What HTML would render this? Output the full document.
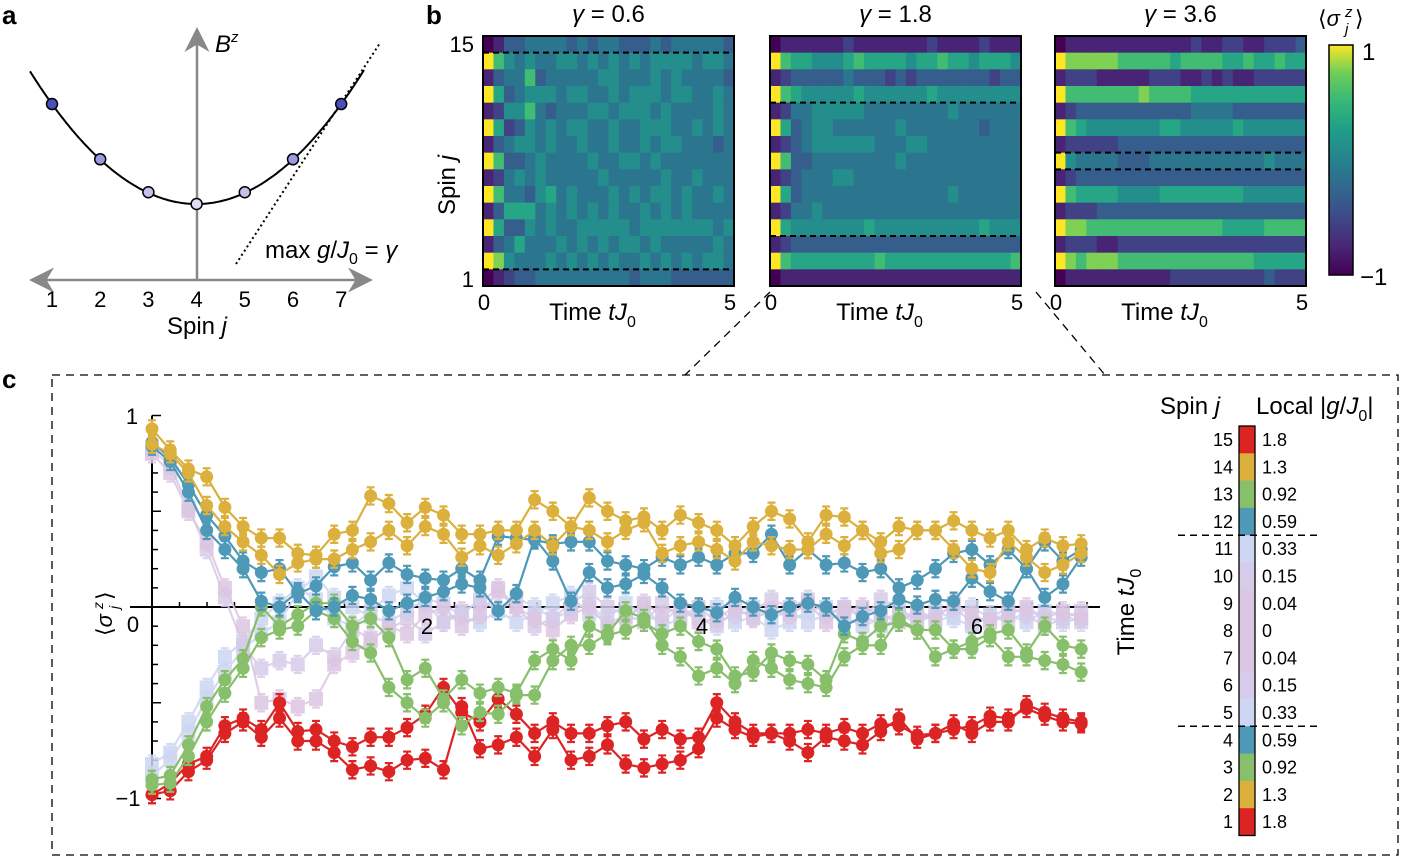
<!DOCTYPE html>
<html><head><meta charset="utf-8">
<style>
html,body{margin:0;padding:0;background:#fff;}
svg{display:block;font-family:"Liberation Sans",sans-serif;}
</style></head>
<body>
<svg id="fig" width="1408" height="857" viewBox="0 0 1408 857" xmlns="http://www.w3.org/2000/svg">
<defs>
<linearGradient id="vir" x1="0" y1="1" x2="0" y2="0">
<stop offset="0" stop-color="#440154"/><stop offset="0.13" stop-color="#482878"/><stop offset="0.25" stop-color="#3e4989"/><stop offset="0.38" stop-color="#31688e"/><stop offset="0.5" stop-color="#26828e"/><stop offset="0.63" stop-color="#1f9e89"/><stop offset="0.75" stop-color="#35b779"/><stop offset="0.88" stop-color="#6ece58"/><stop offset="1" stop-color="#fde725"/>
</linearGradient>
<marker id="arr" markerWidth="10" markerHeight="10" refX="8" refY="5" orient="auto"><path d="M0,0 L10,5 L0,10 L3,5 Z" fill="#888"/></marker>
</defs>

<text x="2" y="24" font-size="26" font-weight="bold">a</text>
<text x="426" y="24" font-size="26" font-weight="bold">b</text>
<text x="2" y="388" font-size="26" font-weight="bold">c</text>

<g>
<line x1="197" y1="280" x2="197" y2="32" stroke="#888" stroke-width="2.5" marker-end="url(#arr)"/>
<line x1="197" y1="280" x2="34" y2="280" stroke="#888" stroke-width="2.5" marker-end="url(#arr)"/>
<line x1="197" y1="280" x2="368" y2="280" stroke="#888" stroke-width="2.5" marker-end="url(#arr)"/>
<path id="parab" d="" fill="none" stroke="#000" stroke-width="2"/>
<line x1="236" y1="264" x2="380" y2="43" stroke="#000" stroke-width="2" stroke-dasharray="2,3"/>
<g id="apoints"></g>
<text x="215" y="52" font-size="24" font-style="italic">B<tspan font-size="15" dy="-10">z</tspan></text>
<text x="265" y="258" font-size="24">max <tspan font-style="italic">g</tspan>/<tspan font-style="italic">J</tspan><tspan font-size="16" dy="6">0</tspan><tspan dy="-6"> = </tspan><tspan font-style="italic">γ</tspan></text>
<text x="197" y="334" font-size="24" text-anchor="middle">Spin <tspan font-style="italic">j</tspan></text>
</g>

<g id="panelb"></g>
<text x="430" y="160" font-size="24" text-anchor="middle" transform="rotate(-90 455 160)">Spin <tspan font-style="italic">j</tspan></text>
<text x="474" y="52" font-size="22" text-anchor="end">15</text>
<text x="474" y="287" font-size="22" text-anchor="end">1</text>
<rect x="1329" y="45" width="24" height="230" fill="url(#vir)" stroke="#000" stroke-width="1.5"/>
<text x="1362" y="60" font-size="24">1</text>
<text x="1360" y="285" font-size="24">−1</text>
<g>
<text x="1318" y="26" font-size="22">⟨<tspan font-style="italic">σ</tspan></text>
<text x="1345" y="17" font-size="15" font-style="italic">z</text>
<text x="1345" y="34" font-size="15" font-style="italic">j</text>
<text x="1355" y="26" font-size="22">⟩</text>
</g>

<line x1="770" y1="292" x2="685" y2="375" stroke="#000" stroke-width="1.3" stroke-dasharray="8,6"/>
<line x1="1036" y1="292" x2="1105" y2="375" stroke="#000" stroke-width="1.3" stroke-dasharray="8,6"/>
<rect x="52" y="375" width="1346" height="480" fill="none" stroke="#000" stroke-width="1.3" stroke-dasharray="8,6"/>

<g id="panelc"></g>
<g transform="translate(112,612) rotate(-90)">
<text x="-24" y="0" font-size="22">⟨<tspan font-style="italic">σ</tspan></text>
<text x="3" y="-9" font-size="14" font-style="italic">z</text>
<text x="3" y="7" font-size="14" font-style="italic">j</text>
<text x="12" y="0" font-size="22">⟩</text>
</g>
<g id="legend"></g>
</svg>

<script>
const aSpins=[1,2,3,4,5,6,7];
const aField=[1.0,0.53,0.25,0.15,0.25,0.53,1.0];
const aColors=['#4b4fbd','#9a9ae0','#c2c2ee','#dedef6','#c2c2ee','#9a9ae0','#4b4fbd'];

const gammas=['0.6','1.8','3.6'];
const heat1=[
"013344443434433343444443","975454455454545455554554","134473444445544454544443",
"963455545544545554554454","125574344455455545444454","962354545544544555445454",
"134554544544544545544434","973345444454455454444444","124545444445444445445444",
"974435645444545455454454","136664545454544545454444","963354544555554555555545",
"134644454545455454444454","985444545454544545454554","012334444444443444333333"];
const heat2=[
"011111121111111211112111","976655567666656676656665","123333343332323333333233",
"976555556555555655555555","124455555444444445444444","963455444444544444443444",
"123455555544455444444444","973344444444544444444444","123444554444444444444444",
"963444444444444445444444","124454444444444444444444","965555555655555555556555",
"123333333333333333333333","976666666676666666666667","011111111111111111111111"];
const heat3=[
"011111111111121122112223","988888777776777766766766","122211111222112121122222",
"977777778777766666666666","123333333333344443333333","976555555566555556555555",
"122222333333333333333333","954444333444444444445444","123333333333333333333333",
"976666555566666666555555","122233333333333333333333","988777777777777766667777",
"122211222222222222222222","987888777777777777766666","011111111112222222223222"];
const dashRows1=[14.5,1.5], dashRows2=[11.5,3.5], dashRows3=[8.5,7.5];

const dt=0.1325;
const yellowA=[0.93,0.82,0.72,0.68,0.52,0.42,0.36,0.36,0.28,0.27,0.38,0.40,0.58,0.54,0.44,0.52,0.48,0.38,0.38,0.40,0.40,0.56,0.50,0.42,0.57,0.50,0.45,0.47,0.40,0.48,0.44,0.40,0.32,0.42,0.50,0.46,0.34,0.48,0.47,0.40,0.34,0.42,0.40,0.40,0.45,0.40,0.36,0.40,0.30,0.36,0.32,0.33];
const yellowB=[0.85,0.80,0.70,0.53,0.42,0.34,0.27,0.17,0.23,0.25,0.25,0.30,0.34,0.40,0.32,0.42,0.38,0.26,0.32,0.27,0.33,0.40,0.32,0.42,0.40,0.34,0.40,0.44,0.28,0.32,0.34,0.30,0.24,0.34,0.32,0.30,0.30,0.38,0.32,0.40,0.28,0.30,0.40,0.40,0.30,0.20,0.18,0.34,0.26,0.18,0.22,0.28];
const blueA=[0.86,0.78,0.64,0.48,0.37,0.24,0.18,0.20,0.07,0.11,0.21,0.23,0.14,0.23,0.17,0.15,0.14,0.20,0.14,0.37,0.36,0.35,0.33,0.34,0.34,0.24,0.22,0.20,0.26,0.22,0.26,0.22,0.28,0.28,0.38,0.22,0.30,0.22,0.23,0.18,0.20,0.10,0.14,0.20,0.28,0.30,0.22,0.30,0.20,0.34,0.24,0.30];
const blueB=[0.84,0.76,0.60,0.40,0.30,0.20,0.03,0.00,0.08,-0.02,0.00,0.06,0.04,-0.02,0.02,0.05,0.08,0.12,0.10,-0.02,0.07,0.36,0.24,0.03,0.18,0.10,0.12,0.17,0.10,0.02,0.00,-0.03,0.05,0.00,-0.04,0.00,0.02,0.00,-0.10,-0.05,-0.02,0.04,0.01,0.04,0.03,0.15,0.08,0.03,0.20,0.05,0.12,0.26];
const greenA=[-0.90,-0.88,-0.72,-0.52,-0.38,-0.27,0.00,-0.10,-0.04,0.02,0.02,-0.10,-0.06,-0.16,-0.38,-0.32,-0.48,-0.38,-0.45,-0.42,-0.45,-0.28,-0.22,-0.28,-0.10,-0.15,-0.12,-0.08,-0.14,-0.10,-0.18,-0.22,-0.36,-0.34,-0.24,-0.28,-0.30,-0.38,-0.14,-0.18,-0.10,-0.08,-0.12,-0.12,-0.22,-0.18,-0.14,-0.12,-0.24,-0.10,-0.20,-0.22];
const greenB=[-0.93,-0.92,-0.78,-0.60,-0.45,-0.32,-0.16,-0.12,-0.10,-0.02,-0.06,-0.18,-0.24,-0.42,-0.50,-0.58,-0.50,-0.62,-0.55,-0.56,-0.46,-0.46,-0.28,-0.20,-0.20,-0.14,-0.02,-0.06,-0.20,-0.26,-0.36,-0.32,-0.40,-0.28,-0.32,-0.38,-0.40,-0.42,-0.26,-0.20,-0.20,-0.06,-0.12,-0.26,-0.22,-0.22,-0.16,-0.26,-0.26,-0.28,-0.30,-0.34];
const redA=[-0.98,-0.92,-0.82,-0.78,-0.62,-0.58,-0.64,-0.50,-0.65,-0.64,-0.70,-0.73,-0.68,-0.68,-0.63,-0.56,-0.42,-0.55,-0.60,-0.48,-0.56,-0.66,-0.60,-0.66,-0.66,-0.62,-0.60,-0.69,-0.64,-0.69,-0.68,-0.50,-0.60,-0.66,-0.66,-0.66,-0.64,-0.66,-0.63,-0.66,-0.61,-0.62,-0.67,-0.66,-0.61,-0.66,-0.60,-0.60,-0.51,-0.55,-0.58,-0.60];
const redB=[-0.98,-0.96,-0.86,-0.80,-0.66,-0.60,-0.68,-0.58,-0.70,-0.70,-0.76,-0.85,-0.83,-0.86,-0.80,-0.79,-0.85,-0.52,-0.74,-0.72,-0.68,-0.78,-0.64,-0.80,-0.78,-0.72,-0.82,-0.84,-0.82,-0.80,-0.74,-0.58,-0.64,-0.68,-0.66,-0.70,-0.76,-0.68,-0.70,-0.72,-0.65,-0.58,-0.69,-0.66,-0.64,-0.62,-0.57,-0.58,-0.53,-0.57,-0.60,-0.61];
const faintA=[-0.88,-0.80,-0.66,-0.48,-0.34,-0.22,-0.14,-0.08,0.08,0.16,0.05,0.00,-0.05,-0.08,-0.02,0.04,0.02,-0.05,-0.08,-0.02,0.05,0.00,-0.06,-0.02,0.02,-0.08,-0.05,0.00,-0.10,-0.06,-0.02,0.00,-0.08,-0.05,-0.12,-0.08,-0.02,0.00,-0.05,-0.10,-0.06,-0.04,-0.08,-0.02,-0.06,-0.10,-0.04,-0.08,-0.02,-0.05,-0.08,-0.06];
const faintB=[-0.82,-0.76,-0.60,-0.42,-0.26,-0.18,-0.06,0.02,0.10,0.04,-0.06,-0.10,-0.02,0.06,0.10,0.02,-0.08,-0.04,0.04,-0.02,-0.08,-0.04,0.02,0.06,-0.04,-0.06,0.02,-0.04,-0.08,0.00,-0.06,-0.10,-0.02,0.00,-0.06,-0.02,-0.08,-0.04,0.00,-0.04,-0.10,-0.06,-0.02,-0.08,-0.04,0.00,-0.06,-0.04,-0.08,-0.02,-0.04,-0.08];
const faintC=[0.82,0.74,0.52,0.30,0.05,-0.20,-0.32,-0.28,-0.30,-0.20,-0.26,-0.12,-0.16,-0.12,-0.06,-0.14,-0.08,-0.02,0.02,0.10,0.00,-0.10,-0.06,0.02,0.08,0.00,-0.04,-0.08,0.02,-0.05,0.00,-0.08,-0.04,-0.02,0.04,0.00,0.04,-0.04,0.00,-0.06,0.04,0.00,-0.08,-0.04,0.00,-0.08,-0.06,0.00,-0.04,-0.10,-0.06,-0.02];
const faintD=[0.80,0.70,0.50,0.34,0.10,-0.10,-0.50,-0.48,-0.52,-0.48,-0.30,-0.24,-0.18,-0.10,-0.14,-0.04,0.00,-0.10,-0.04,0.08,0.00,-0.06,-0.12,-0.04,0.00,-0.10,-0.06,0.02,-0.04,0.00,-0.08,-0.06,0.00,-0.06,-0.02,-0.04,0.02,-0.08,-0.02,0.00,-0.04,-0.08,-0.02,-0.06,0.02,-0.04,-0.08,-0.04,0.00,-0.06,-0.02,-0.06];
const xTicks=[0,2,4,6];
const legendSpins=[15,14,13,12,11,10,9,8,7,6,5,4,3,2,1];
const legendG=['1.8','1.3','0.92','0.59','0.33','0.15','0.04','0','0.04','0.15','0.33','0.59','0.92','1.3','1.8'];
const legendColors=['#dc2424','#dcb03c','#88bf6a','#4e98b8','#cdd6f2','#d6cbe9','#dcc6e2','#dcc6e2','#dcc6e2','#d6cbe9','#cdd6f2','#4e98b8','#88bf6a','#dcb03c','#dc2424'];

const NS='http://www.w3.org/2000/svg';
function mk(tag,attrs,parent){const e=document.createElementNS(NS,tag);for(const k in attrs)e.setAttribute(k,attrs[k]);parent.appendChild(e);return e;}

(function(){
  const sx=j=>52+(j-1)*48.2, sy=f=>204-(f-0.15)*117.6;
  const fx=x=>{const jj=(x-52)/48.2+1;const d=jj-4;return 0.15+0.85*d*d/9;};
  let d='';for(let x=30;x<=364;x+=2){d+=(x===30?'M':'L')+x+','+sy(fx(x)).toFixed(1);}
  document.getElementById('parab').setAttribute('d',d);
  const g=document.getElementById('apoints');
  aSpins.forEach((j,i)=>{
    const c=mk('circle',{cx:sx(j),cy:sy(aField[i]),r:5.5,fill:aColors[i],stroke:'#000','stroke-width':1.5},g);
    
    
    const t=mk('text',{x:sx(j),y:307,'font-size':22,'text-anchor':'middle'},g);t.textContent=j;
    
    
  });
})();

const vstops=[[68,1,84],[72,40,120],[62,73,137],[49,104,142],[38,130,142],[31,158,137],[53,183,121],[110,206,88],[253,231,37]];
function vir(v){const t=Math.max(0,Math.min(1,(v+1)/2))*(vstops.length-1);const i=Math.min(vstops.length-2,Math.floor(t));const f=t-i;const a=vstops[i],b=vstops[i+1];return 'rgb('+a.map((c,k)=>Math.round(c+(b[k]-c)*f)).join(',')+')';}

(function(){
  const pb=document.getElementById('panelb');
  const panels=[{x:483,data:heat1,dash:dashRows1},{x:770,data:heat2,dash:dashRows2},{x:1055,data:heat3,dash:dashRows3}];
  const W=251,H=250,Y0=36;
  panels.forEach((p,pi)=>{
    const g=mk('g',{},pb);
    
    
    const nR=p.data.length,nC=p.data[0].length;
    const cw=W/nC,rh=H/nR;
    p.data.forEach((row,ri)=>{
      for(let c=0;c<nC;c++){
        const v=-1+2*(+row[c])/9;
        const r=mk('rect',{x:(p.x+c*cw).toFixed(2),y:(Y0+ri*rh).toFixed(2),width:(cw+0.5).toFixed(2),height:(rh+0.5).toFixed(2),fill:vir(v)},g);
        
        
      }
    });
    p.dash.forEach(s=>{
      const yy=Y0+(15-s)*rh+rh/2;
      const l=mk('line',{x1:p.x,x2:p.x+W,y1:yy,y2:yy,stroke:'#000','stroke-width':2,'stroke-dasharray':'6,4'},g);
      
      
    });
    const fr=mk('rect',{x:p.x,y:Y0,width:W,height:H,fill:'none',stroke:'#000','stroke-width':2},g);
    
    
    const tt=mk('text',{x:p.x+W/2,y:22,'font-size':24,'text-anchor':'middle'},g);
    tt.innerHTML='<tspan font-style="italic">γ</tspan> = '+gammas[pi];
    
    
    const t0=mk('text',{x:p.x+1,y:310,'font-size':22,'text-anchor':'middle'},g);t0.textContent='0';
    
    
    const t5=mk('text',{x:p.x+W-4,y:310,'font-size':22,'text-anchor':'middle'},g);t5.textContent='5';
    
    
    const xl=mk('text',{x:p.x+W/2-16,y:320,'font-size':24,'text-anchor':'middle'},g);
    xl.innerHTML='Time <tspan font-style="italic">tJ</tspan><tspan font-size="16" dy="7">0</tspan>';
    
    
  });
})();

(function(){
  const pc=document.getElementById('panelc');
  const X=t=>152+t*137.5, Y=v=>607-v*191.5;
  const ax=mk('line',{x1:130,x2:1100,y1:Y(0),y2:Y(0),stroke:'#000','stroke-width':2},pc);
  
  const ay=mk('line',{x1:X(0),x2:X(0),y1:Y(1),y2:Y(-1),stroke:'#000','stroke-width':2},pc);
  
  for(let k=-10;k<=10;k++){const len=(k%5===0)?9:6;const l=mk('line',{x1:X(0),x2:X(0)+len,y1:Y(k/10),y2:Y(k/10),stroke:'#000','stroke-width':1.5},pc);
    }
  for(let k=1;k<=34;k++){const l=mk('line',{x1:X(k*0.2),x2:X(k*0.2),y1:Y(0),y2:Y(0)-((k%10===0)?8:5),stroke:'#000','stroke-width':1.5},pc);
    }
  const series=[
    {d:faintA,c:'#cdd6f2',sq:true},{d:faintB,c:'#cdd6f2',sq:true},{d:faintC,c:'#d6cbe9',sq:true},{d:faintD,c:'#dcc6e2',sq:true},
    {d:redA,c:'#dc2424'},{d:redB,c:'#dc2424'},{d:greenA,c:'#88bf6a'},{d:greenB,c:'#88bf6a'},
    {d:blueA,c:'#4e98b8'},{d:blueB,c:'#4e98b8'},{d:yellowA,c:'#dcb03c'},{d:yellowB,c:'#dcb03c'}];
  const err=0.045;
  series.forEach(s=>{
    const g=mk('g',{opacity:s.sq?0.85:1},pc);
    
    
    const pts=s.d.map((v,i)=>X(i*dt).toFixed(1)+','+Y(v).toFixed(1)).join(' ');
    const pl=mk('polyline',{points:pts,fill:'none',stroke:s.c,'stroke-width':2.2},g);
    
    
    s.d.forEach((v,i)=>{
      const x=X(i*dt),y=Y(v),e=err*191.5;
      const eb=mk('path',{d:`M${x},${y-e}V${y+e}M${x-4},${y-e}H${x+4}M${x-4},${y+e}H${x+4}`,stroke:s.c,'stroke-width':2.2,fill:'none'},g);
      
      
      let m;
      if(s.sq){m=mk('rect',{x:x-7,y:y-7,width:14,height:14,fill:s.c},g);}
      else{m=mk('circle',{cx:x,cy:y,r:6.5,fill:s.c},g);}
      
      
    });
  });
  xTicks.forEach(t=>{
    const tx=mk('text',{x:t===0?133:X(t),y:t===0?632:634,'font-size':22,'text-anchor':'middle'},pc);tx.textContent=t;
    
    
  });
  const y1=mk('text',{x:132,y:424,'font-size':22,'text-anchor':'middle'},pc);y1.textContent='1';
  
  const ym=mk('text',{x:128,y:806,'font-size':22,'text-anchor':'middle'},pc);ym.textContent='−1';
  
  const xt=mk('text',{x:0,y:0,'font-size':24,'text-anchor':'middle',transform:'translate(1134,612) rotate(-90)'},pc);
  xt.innerHTML='Time <tspan font-style="italic">tJ</tspan><tspan font-size="16" dy="7">0</tspan>';
  
})();

(function(){
  const lg=document.getElementById('legend');
  const top=426,rh=27.3,x=1239,w=16;
  legendSpins.forEach((s,i)=>{
    const r=mk('rect',{x:x,y:top+i*rh,width:w,height:rh+0.5,fill:legendColors[i]},lg);
    
    const t=mk('text',{x:1233,y:top+i*rh+20,'font-size':18,'text-anchor':'end'},lg);t.textContent=s;
    
    const t2=mk('text',{x:1262,y:top+i*rh+20,'font-size':18},lg);t2.textContent=legendG[i];
    
  });
  const fr=mk('rect',{x:x,y:top,width:w,height:rh*15,fill:'none',stroke:'#000','stroke-width':1.3},lg);
  
  [top+4*rh,top+11*rh].forEach(yy=>{
    const l=mk('line',{x1:1178,x2:1322,y1:yy,y2:yy,stroke:'#000','stroke-width':1.5,'stroke-dasharray':'7,5'},lg);
    
  });
  const h1=mk('text',{x:1160,y:414,'font-size':24},lg);h1.innerHTML='Spin <tspan font-style="italic">j</tspan>';
  
  const h2=mk('text',{x:1256,y:414,'font-size':24},lg);h2.innerHTML='Local |<tspan font-style="italic">g</tspan>/<tspan font-style="italic">J</tspan><tspan font-size="16" dy="7">0</tspan><tspan dy="-7">|</tspan>';
  
})();
</script>
</body></html>
